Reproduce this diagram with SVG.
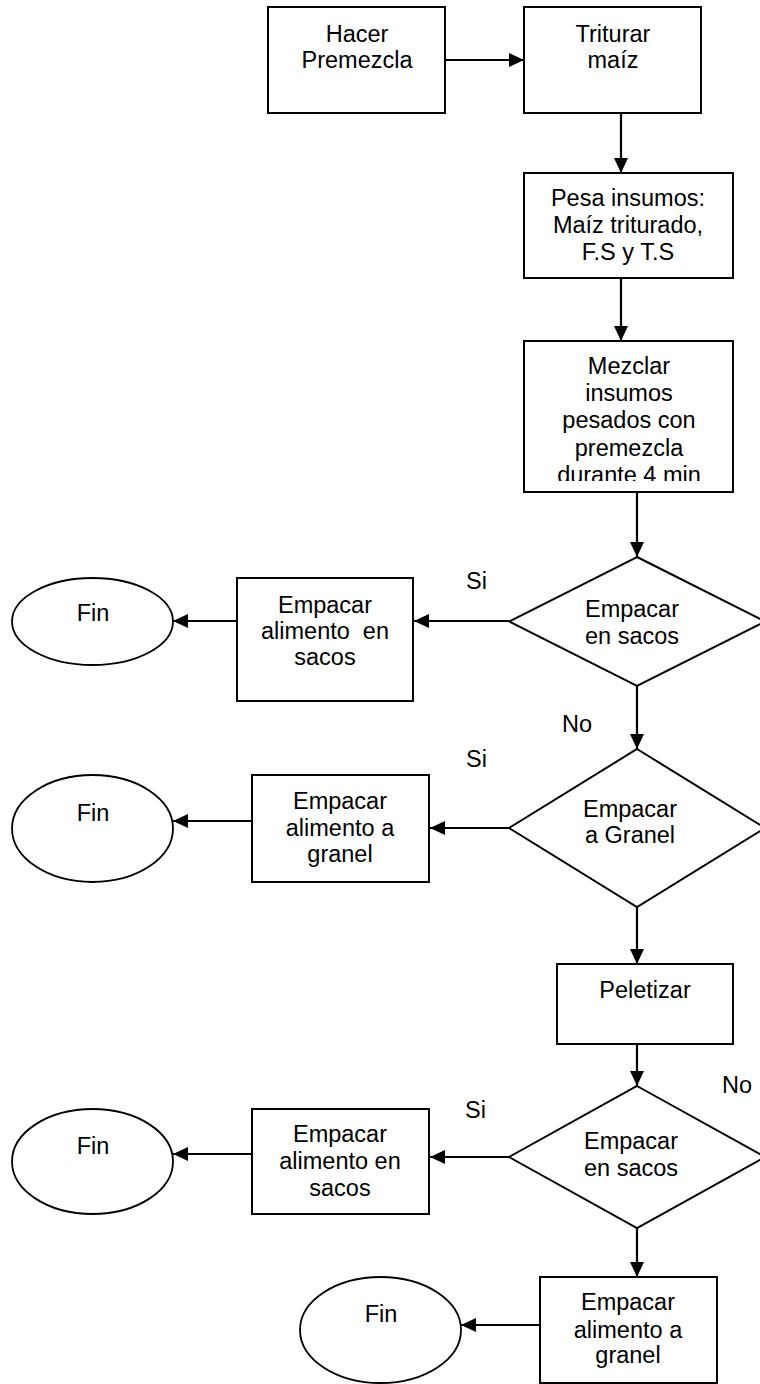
<svg xmlns="http://www.w3.org/2000/svg" width="760" height="1384" viewBox="0 0 760 1384">
<style>
  .box{fill:#fff;stroke:#000;stroke-width:2}
  .ell{fill:#fff;stroke:#000;stroke-width:1.8}
  .t{font-family:"Liberation Sans",Arial,sans-serif;font-size:23.5px;fill:#000;text-anchor:middle}
  .lbl{font-family:"Liberation Sans",Arial,sans-serif;font-size:23.5px;fill:#000}
  .c{fill:none;stroke:#000;stroke-width:2.2;marker-end:url(#ah)}
</style>
<defs>
  <marker id="ah" markerUnits="userSpaceOnUse" markerWidth="16" markerHeight="14" refX="15" refY="7" orient="auto">
    <path d="M0,0 L15,7 L0,14 z" fill="#000"/>
  </marker>
  <clipPath id="mzclip"><rect x="524" y="341" width="209" height="140"/></clipPath>
</defs>
<rect width="760" height="1384" fill="#fff"/>

<g id="connectors">
  <line class="c" x1="445" y1="60" x2="524" y2="60"/>
  <line class="c" x1="621" y1="113" x2="621" y2="173"/>
  <line class="c" x1="621" y1="278" x2="621" y2="341"/>
  <line class="c" x1="637" y1="492" x2="637" y2="557"/>
  <line class="c" x1="509" y1="621" x2="414" y2="621"/>
  <line class="c" x1="237" y1="621" x2="173" y2="621"/>
  <line class="c" x1="637" y1="686" x2="637" y2="749"/>
  <line class="c" x1="509" y1="828" x2="430" y2="828"/>
  <line class="c" x1="252" y1="821" x2="173" y2="821"/>
  <line class="c" x1="637" y1="907" x2="637" y2="964"/>
  <line class="c" x1="637" y1="1044" x2="637" y2="1086"/>
  <line class="c" x1="509" y1="1157" x2="430" y2="1157"/>
  <line class="c" x1="252" y1="1154" x2="173" y2="1154"/>
  <line class="c" x1="637" y1="1228" x2="637" y2="1277"/>
  <line class="c" x1="540" y1="1325" x2="461" y2="1325"/>
  <text class="lbl" x="466" y="589">Si</text>
  <text class="lbl" x="562" y="732">No</text>
  <text class="lbl" x="466" y="767">Si</text>
  <text class="lbl" x="722" y="1093">No</text>
  <text class="lbl" x="465" y="1118">Si</text>
</g>

<g id="hacer-premezcla">
  <rect class="box" x="268" y="7" width="177" height="106"/>
  <text class="t" x="357" y="42">Hacer</text>
  <text class="t" x="357" y="68">Premezcla</text>
</g>
<g id="triturar-maiz">
  <rect class="box" x="524" y="7" width="177" height="106"/>
  <text class="t" x="613" y="42">Triturar</text>
  <text class="t" x="613" y="68">maíz</text>
</g>
<g id="pesa-insumos">
  <rect class="box" x="524" y="173" width="209" height="105"/>
  <text class="t" x="628" y="206">Pesa insumos:</text>
  <text class="t" x="628" y="233">Maíz triturado,</text>
  <text class="t" x="628" y="260">F.S y T.S</text>
</g>
<g id="mezclar">
  <rect class="box" x="524" y="341" width="209" height="151"/>
  <g clip-path="url(#mzclip)">
    <text class="t" x="629" y="374">Mezclar</text>
    <text class="t" x="629" y="401">insumos</text>
    <text class="t" x="629" y="428">pesados con</text>
    <text class="t" x="629" y="456">premezcla</text>
    <text class="t" x="629" y="483">durante 4 min</text>
  </g>
</g>
<g id="decision-sacos-1">
  <polygon class="box" points="637,557 765,621.5 637,686 509,621.5"/>
  <text class="t" x="632" y="617">Empacar</text>
  <text class="t" x="632" y="644">en sacos</text>
</g>
<g id="empacar-sacos-1">
  <rect class="box" x="237" y="578" width="176" height="123"/>
  <text class="t" x="325" y="613">Empacar</text>
  <text class="t" x="325" y="639" xml:space="preserve">alimento  en</text>
  <text class="t" x="325" y="665">sacos</text>
</g>
<g id="fin-1">
  <ellipse class="ell" cx="92.5" cy="621.5" rx="80.5" ry="43.5"/>
  <text class="t" x="93" y="621">Fin</text>
</g>
<g id="decision-granel">
  <polygon class="box" points="637,749 765,828 637,907 509,828"/>
  <text class="t" x="630" y="817">Empacar</text>
  <text class="t" x="630" y="843">a Granel</text>
</g>
<g id="empacar-granel-1">
  <rect class="box" x="252" y="775" width="177" height="107"/>
  <text class="t" x="340" y="809">Empacar</text>
  <text class="t" x="340" y="836">alimento a</text>
  <text class="t" x="340" y="862">granel</text>
</g>
<g id="fin-2">
  <ellipse class="ell" cx="92.5" cy="828.5" rx="80.5" ry="53.5"/>
  <text class="t" x="93" y="821">Fin</text>
</g>
<g id="peletizar">
  <rect class="box" x="557" y="964" width="176" height="80"/>
  <text class="t" x="645" y="998">Peletizar</text>
</g>
<g id="decision-sacos-2">
  <polygon class="box" points="637,1086 765,1157 637,1228 509,1157"/>
  <text class="t" x="631" y="1149">Empacar</text>
  <text class="t" x="631" y="1176">en sacos</text>
</g>
<g id="empacar-sacos-2">
  <rect class="box" x="252" y="1109" width="177" height="105"/>
  <text class="t" x="340" y="1142">Empacar</text>
  <text class="t" x="340" y="1169">alimento en</text>
  <text class="t" x="340" y="1196">sacos</text>
</g>
<g id="fin-3">
  <ellipse class="ell" cx="92.5" cy="1161.5" rx="80.5" ry="52.5"/>
  <text class="t" x="93" y="1154">Fin</text>
</g>
<g id="empacar-granel-2">
  <rect class="box" x="540" y="1277" width="177" height="106"/>
  <text class="t" x="628" y="1310">Empacar</text>
  <text class="t" x="628" y="1338">alimento a</text>
  <text class="t" x="628" y="1363">granel</text>
</g>
<g id="fin-4">
  <ellipse class="ell" cx="380.5" cy="1330" rx="80.5" ry="53"/>
  <text class="t" x="381" y="1322">Fin</text>
</g>
</svg>
